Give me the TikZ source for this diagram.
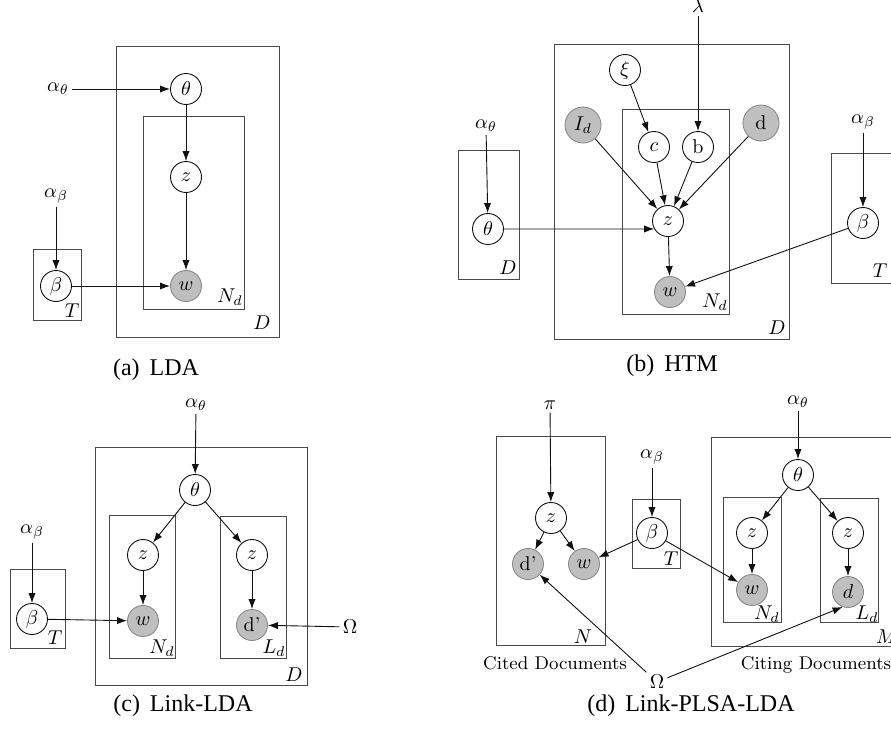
\documentclass[tikz,border=0pt]{standalone}
\usepackage{fontspec}
\newfontfamily\capfont{Liberation Serif}
\usepackage{tikz}
\usetikzlibrary{arrows.meta,positioning}
\definecolor{ink}{HTML}{111111}
\definecolor{rule}{HTML}{4A4A4A}
\definecolor{shade}{HTML}{BFBFBF}
\definecolor{shadeline}{HTML}{8A8A8A}
\tikzset{
  latent/.style={circle, draw=ink, fill=white, minimum size=15.5pt, inner sep=0pt, line width=0.45pt},
  obs/.style={latent, fill=shade, draw=shadeline},
  obsbig/.style={obs, minimum size=18pt},
  hyp/.style={inner sep=1.5pt},
  plate/.style={draw=rule, line width=0.45pt},
  plbl/.style={inner sep=0pt},
  fl/.style={-{Latex[length=5pt,width=3.6pt]}, draw=ink, line width=0.45pt},
  capt/.style={font=\capfont\fontsize{12}{14}\selectfont},
  grp/.style={font=\fontsize{9.2}{11}\selectfont}
}
\begin{document}
\begin{tikzpicture}[x=0.5pt, y=-0.5pt, font=\fontsize{10}{12}\selectfont]
  \useasboundingbox (0,0) rectangle (891,736);
  \clip (0,0) rectangle (891,736);
  % (a) LDA
  \draw[plate] (116,46) rectangle (279,337);
  \draw[plate] (143,116) rectangle (244,309);
  \draw[plate] (33,249) rectangle (81,320);
  \node[hyp] (aat) at (58,89) {$\alpha_\theta$};
  \node[latent] (ath) at (186,89) {$\theta$};
  \node[latent] (az) at (186,177) {$z$};
  \node[obs] (aw) at (186,286) {$w$};
  \node[hyp] (aab) at (56,196) {$\alpha_\beta$};
  \node[latent] (abe) at (56,286) {$\beta$};
  \node[plbl] (aNd) at (230,297) {$N_d$};
  \node[plbl] (aD) at (262,323) {$D$};
  \node[plbl] (aT) at (72,311) {$T$};
  \foreach \a/\b in {aat/ath,ath/az,az/aw,aab/abe,abe/aw} \draw[fl] (\a)--(\b);
  \node[capt] (acap) at (156,370) {(a)\, LDA};
  % (b) HTM
  \draw[plate] (554,44) rectangle (789,339);
  \draw[plate] (622,109) rectangle (729,314);
  \draw[plate] (458,150) rectangle (519,279);
  \draw[plate] (831,153) rectangle (905,283);
  \node[hyp] (bl) at (698,6) {$\lambda$};
  \node[latent] (bxi) at (625,70) {$\xi$};
  \node[obsbig] (bid) at (583,125) {$I_d$};
  \node[obsbig] (bd) at (761,123) {d};
  \node[latent] (bc) at (654,147) {$c$};
  \node[latent] (bb) at (698,147) {b};
  \node[latent] (bz) at (668,221) {$z$};
  \node[obs] (bw) at (670,292) {$w$};
  \node[hyp] (bat) at (486,126) {$\alpha_\theta$};
  \node[latent] (bth) at (488,229) {$\theta$};
  \node[hyp] (bab) at (863,122) {$\alpha_\beta$};
  \node[latent] (bbe) at (863,223) {$\beta$};
  \node[plbl] (bNd) at (715,302) {$N_d$};
  \node[plbl] (bD) at (777,328) {$D$};
  \node[plbl] (bDl) at (508,268) {$D$};
  \node[plbl] (bT) at (880,271) {$T$};
  \foreach \a/\b in {bl/bb,bxi/bc,bid/bz,bc/bz,bb/bz,bd/bz,bz/bw,bat/bth,bab/bbe,bbe/bw} \draw[fl] (\a)--(\b);
  \draw[fl] (bth) -- (bz.210);
  \node[capt] (bcap) at (672,366) {(b)\, HTM};
  % (c) Link-LDA
  \draw[plate] (95,447) rectangle (307,685);
  \draw[plate] (109,515) rectangle (175,658);
  \draw[plate] (220,516) rectangle (286,658);
  \draw[plate] (10,569) rectangle (65,648);
  \node[hyp] (cat) at (196,405) {$\alpha_\theta$};
  \node[latent] (cth) at (195,490) {$\theta$};
  \node[latent] (czl) at (143,555) {$z$};
  \node[obs] (cw) at (143,621) {$w$};
  \node[latent] (czr) at (252,555) {$z$};
  \node[obs] (cdp) at (252,625) {d'};
  \node[hyp] (com) at (350,627) {$\Omega$};
  \node[hyp] (cab) at (32,532) {$\alpha_\beta$};
  \node[latent] (cbe) at (32,619) {$\beta$};
  \node[plbl] (cNd) at (162,648) {$N_d$};
  \node[plbl] (cLd) at (274,648) {$L_d$};
  \node[plbl] (cD) at (294,675) {$D$};
  \node[plbl] (cT) at (55,638) {$T$};
  \foreach \a/\b in {cat/cth,cth/czl,cth/czr,czl/cw,czr/cdp,com/cdp,cab/cbe,cbe/cw} \draw[fl] (\a)--(\b);
  \node[capt] (ccap) at (183,706) {(c)\, Link-LDA};
  % (d) Link-PLSA-LDA
  \draw[plate] (496,436) rectangle (605,645);
  \draw[plate] (632,499) rectangle (680,568);
  \draw[plate] (711,437) rectangle (905,646);
  \draw[plate] (723,497) rectangle (781,622);
  \draw[plate] (820,498) rectangle (878,622);
  \node[hyp] (dpi) at (550,405) {$\pi$};
  \node[latent] (dz) at (551,518) {$z$};
  \node[obs] (ddp) at (528,564) {d'};
  \node[obs] (dw) at (584,564) {$w$};
  \node[hyp] (dab) at (652,457) {$\alpha_\beta$};
  \node[latent] (dbe) at (652,533) {$\beta$};
  \node[hyp] (dat) at (798,402) {$\alpha_\theta$};
  \node[latent] (dth) at (798,475) {$\theta$};
  \node[latent] (dzl) at (752,533) {$z$};
  \node[obs] (dwr) at (752,590) {$w$};
  \node[latent] (dzr) at (848,533) {$z$};
  \node[obs] (dd) at (848,592) {$d$};
  \node[hyp] (dom) at (657,682) {$\Omega$};
  \node[plbl] (dN) at (583,637) {$N$};
  \node[plbl] (dT) at (671,559) {$T$};
  \node[plbl] (dNd) at (767,614) {$N_d$};
  \node[plbl] (dLd) at (867,614) {$L_d$};
  \node[plbl] (dM) at (887,637) {$M$};
  \node[grp] (dcited) at (555,663) {Cited Documents};
  \node[grp] (dciting) at (816,665) {Citing Documents};
  \foreach \a/\b in {dpi/dz,dz/ddp,dz/dw,dab/dbe,dbe/dw,dbe/dwr,dat/dth,dth/dzl,dth/dzr,dzl/dwr,dzr/dd,dom/ddp} \draw[fl] (\a)--(\b);
  \draw[fl] (dom) -- (dd.250);
  \node[capt] (dcap) at (691,706) {(d)\, Link-PLSA-LDA};
\end{tikzpicture}
\end{document}
